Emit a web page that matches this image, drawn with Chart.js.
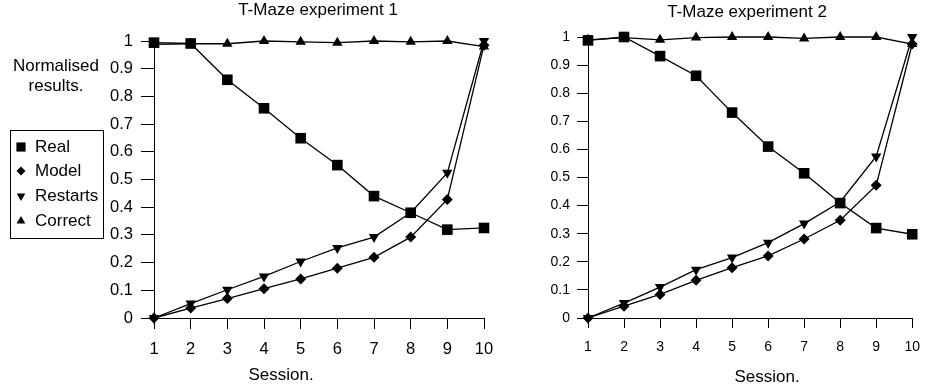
<!DOCTYPE html>
<html>
<head>
<meta charset="utf-8">
<title>T-Maze experiments</title>
<script src="https://cdn.jsdelivr.net/npm/chart.js@4.4.1/dist/chart.umd.min.js"></script>
<style>
  html, body { margin: 0; padding: 0; background: #fff; overflow: hidden; }
  canvas { position: absolute; top: 0; }
  #chart1 { left: 0; }
  #chart2 { left: 510px; }
</style>
</head>
<body>
<canvas id="chart1" width="510" height="389"></canvas>
<canvas id="chart2" width="421" height="389"></canvas>
<script>
const sessions = ['1', '2', '3', '4', '5', '6', '7', '8', '9', '10'];
const seriesNames = ['Real', 'Model', 'Restarts', 'Correct'];
const yTickValues = [0, 0.1, 0.2, 0.3, 0.4, 0.5, 0.6, 0.7, 0.8, 0.9, 1];

// experiment 1
const exp1Real = [0.994, 0.991, 0.86, 0.757, 0.649, 0.552, 0.44, 0.38, 0.319, 0.325];
const exp1Model = [0, 0.036, 0.07, 0.106, 0.141, 0.18, 0.219, 0.292, 0.428, 0.985];
const exp1Restarts = [0, 0.052, 0.102, 0.15, 0.204, 0.253, 0.292, 0.38, 0.524, 1.0];
const exp1Correct = [0.988, 0.99, 0.99, 1.0, 0.997, 0.994, 1.0, 0.997, 1.0, 0.98];

// experiment 2
const exp2Real = [0.988, 1.0, 0.932, 0.862, 0.731, 0.61, 0.515, 0.409, 0.32, 0.298];
const exp2Model = [0, 0.042, 0.084, 0.134, 0.179, 0.221, 0.281, 0.348, 0.472, 0.975];
const exp2Restarts = [0, 0.053, 0.11, 0.172, 0.215, 0.268, 0.336, 0.413, 0.575, 1.0];
const exp2Correct = [0.99, 0.998, 0.99, 0.998, 1.0, 1.0, 0.995, 1.0, 1.0, 0.975];

const FONT = "'Liberation Sans', Arial, Helvetica, sans-serif";
Chart.defaults.font.family = FONT;
Chart.defaults.color = '#000';

const markers = [
    { pointStyle: 'rect', radius: 7.5, rotation: 0 },
    { pointStyle: 'rectRot', radius: 5.5, rotation: 0 },
    { pointStyle: 'triangle', radius: 6, rotation: 180 },
    { pointStyle: 'triangle', radius: 6, rotation: 0 },
];

function buildDatasets(series) {
    return series.map((values, i) => ({
        label: seriesNames[i],
        data: values,
        borderColor: '#000',
        backgroundColor: '#000',
        borderWidth: 1.3,
        tension: 0,
        clip: false,
        pointStyle: markers[i].pointStyle,
        pointRadius: markers[i].radius,
        pointRotation: markers[i].rotation,
        pointBackgroundColor: '#000',
        pointBorderWidth: 0,
    }));
}

// free text and the boxed legend, drawn on top of the chart
const textLayer = {
    id: 'textLayer',
    afterDraw(chart, args, opts) {
        const ctx = chart.ctx;
        ctx.save();
        ctx.fillStyle = '#000';
        ctx.textBaseline = 'middle';
        (opts.items || []).forEach((t) => {
            ctx.font = t.size + 'px ' + FONT;
            ctx.textAlign = t.align || 'center';
            ctx.fillText(t.text, t.x, t.y);
        });

        const lg = opts.legend;
        if (lg) {
            ctx.strokeStyle = '#000';
            ctx.lineWidth = 1;
            ctx.strokeRect(lg.x, lg.y, lg.width, lg.height);
            ctx.font = lg.size + 'px ' + FONT;
            ctx.textAlign = 'left';
            chart.data.datasets.forEach((ds, i) => {
                const y = lg.rowY[i];
                ctx.beginPath();
                Chart.helpers.drawPoint(ctx, {
                    pointStyle: ds.pointStyle,
                    radius: ds.pointRadius - 1,
                    rotation: ds.pointRotation,
                    borderWidth: 0,
                }, lg.markerX, y);
                ctx.fillText(ds.label, lg.textX, y);
            });
        }
        ctx.restore();
    },
};

function makeChart(id, series, cfg) {
    return new Chart(document.getElementById(id), {
        type: 'line',
        data: {
            labels: sessions,
            datasets: buildDatasets(series),
        },
        options: {
            responsive: false,
            animation: false,
            events: [],
            layout: {
                padding: { top: cfg.top, right: cfg.right, left: 0, bottom: 0 },
            },
            plugins: {
                legend: { display: false },
                tooltip: { enabled: false },
                textLayer: { items: cfg.texts, legend: cfg.legend },
            },
            scales: {
                x: {
                    type: 'category',
                    offset: false,
                    afterFit(scale) { scale.height = cfg.xHeight; },
                    grid: { drawOnChartArea: false, tickLength: cfg.xTick, color: '#000' },
                    border: { color: '#000', width: 1 },
                    ticks: {
                        color: '#000',
                        font: { size: cfg.tickSize },
                        padding: cfg.xPad,
                        maxRotation: 0,
                        autoSkip: false,
                    },
                },
                y: {
                    min: 0,
                    max: 1,
                    afterFit(scale) { scale.width = cfg.yWidth; },
                    afterBuildTicks(scale) {
                        scale.ticks = yTickValues.map((v) => ({ value: v }));
                    },
                    grid: { drawOnChartArea: false, tickLength: cfg.yTick, color: '#000' },
                    border: { color: '#000', width: 1 },
                    ticks: {
                        color: '#000',
                        font: { size: cfg.tickSize },
                        padding: cfg.yPad,
                        callback: (v) => String(Number(Number(v).toFixed(1))),
                    },
                },
            },
        },
        plugins: [textLayer],
    });
}

makeChart('chart1', [exp1Real, exp1Model, exp1Restarts, exp1Correct], {
    top: 41,
    right: 26,
    yWidth: 154,
    xHeight: 71,
    xTick: 11,
    yTick: 13,
    xPad: 11,
    yPad: 8,
    tickSize: 16.5,
    texts: [
        { text: 'T-Maze experiment 1', x: 318, y: 10, size: 17 },
        { text: 'Normalised', x: 56, y: 66, size: 17 },
        { text: 'results.', x: 56, y: 86, size: 17 },
        { text: 'Session.', x: 281, y: 375, size: 17 },
    ],
    legend: {
        x: 10.5, y: 130.5, width: 93, height: 108,
        markerX: 21, textX: 35, size: 17,
        rowY: [147, 171, 196, 221],
    },
});

makeChart('chart2', [exp2Real, exp2Model, exp2Restarts, exp2Correct], {
    top: 37,
    right: 9,
    yWidth: 78,
    xHeight: 71,
    xTick: 10,
    yTick: 11,
    xPad: 11,
    yPad: 7,
    tickSize: 14,
    texts: [
        { text: 'T-Maze experiment 2', x: 237, y: 12.5, size: 17 },
        { text: 'Session.', x: 257, y: 377, size: 17 },
    ],
});
</script>
</body>
</html>
